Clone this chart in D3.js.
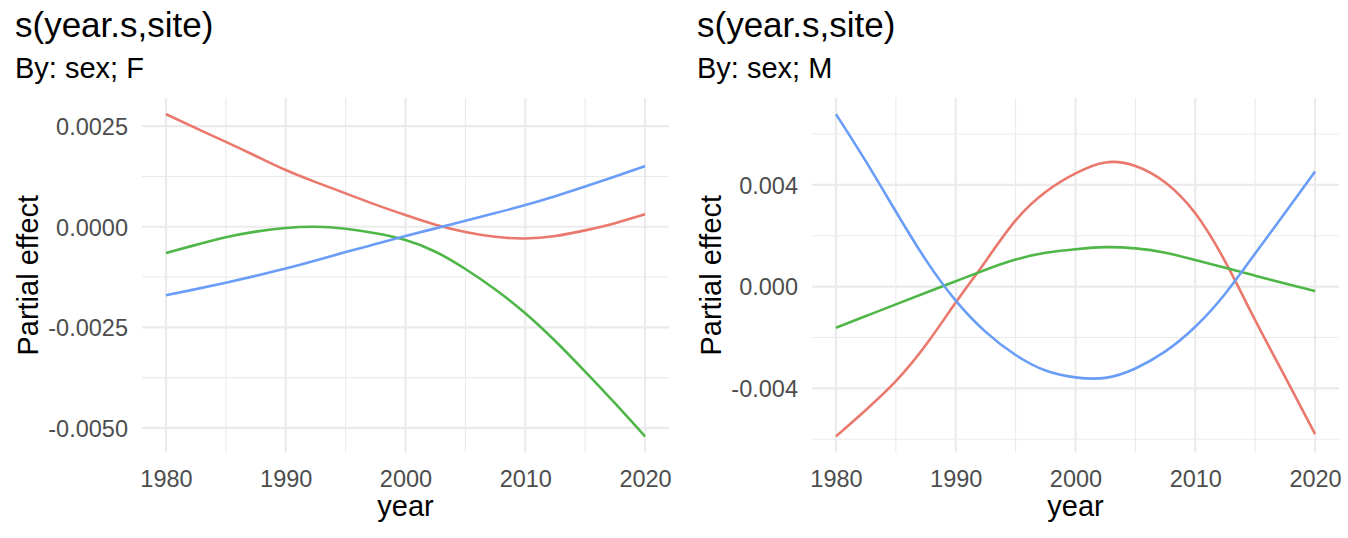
<!DOCTYPE html>
<html><head><meta charset="utf-8">
<script src="https://cdn.jsdelivr.net/npm/d3@7"></script>
<style>
body{margin:0;background:#fff}
text{font-family:"Liberation Sans",Arial,Helvetica,sans-serif}
</style>
</head><body>
<svg id="chart" width="1348" height="538"></svg>
<script>
// ---------- data ----------
const years = [1980, 1982.5, 1985, 1987.5, 1990, 1992.5, 1995, 1997.5, 2000, 2002.5, 2005, 2007.5, 2010, 2012.5, 2015, 2017.5, 2020];

// sex F
const femaleRed   = [0.00280, 0.00245, 0.00211, 0.00176, 0.00141, 0.00111, 0.00083, 0.00055, 0.00029, 0.00005, -0.00013, -0.00025, -0.00029, -0.00023, -0.00009, 0.00009, 0.00031];
const femaleGreen = [-0.00065, -0.00045, -0.00026, -0.00012, -0.00003, 0.00000, -0.00005, -0.00016, -0.00033, -0.00062, -0.00105, -0.00156, -0.00215, -0.00284, -0.00360, -0.00439, -0.00521];
const femaleBlue  = [-0.00170, -0.00155, -0.00139, -0.00122, -0.00104, -0.00084, -0.00063, -0.00043, -0.00023, -0.00004, 0.00015, 0.00034, 0.00054, 0.00076, 0.00100, 0.00125, 0.00151];

// sex M
const maleRed   = [-0.00589, -0.00485, -0.00372, -0.00230, -0.00063, 0.00100, 0.00260, 0.00372, 0.00445, 0.00488, 0.00474, 0.00409, 0.00288, 0.00098, -0.00132, -0.00355, -0.00580];
const maleGreen = [-0.00162, -0.00116, -0.00070, -0.00024, 0.00021, 0.00066, 0.00106, 0.00133, 0.00147, 0.00155, 0.00150, 0.00133, 0.00104, 0.00074, 0.00043, 0.00012, -0.00018];
const maleBlue  = [0.00678, 0.00492, 0.00295, 0.00105, -0.00055, -0.00178, -0.00269, -0.00330, -0.00357, -0.00359, -0.00322, -0.00255, -0.00158, -0.00028, 0.00130, 0.00290, 0.00452];

const seriesColors = ["#EA786D", "#4FB648", "#6A9DF8"];

const xTicks = [1980, 1990, 2000, 2010, 2020];
const xTickLabels = ["1980", "1990", "2000", "2010", "2020"];
const xMinor = [1985, 1995, 2005, 2015];

const yTicksF = [-0.005, -0.0025, 0, 0.0025];
const yTickLabelsF = ["-0.0050", "-0.0025", "0.0000", "0.0025"];
const yMinorF = [-0.00375, -0.00125, 0.00125];

const yTicksM = [-0.004, 0, 0.004];
const yTickLabelsM = ["-0.004", "0.000", "0.004"];
const yMinorM = [-0.006, -0.002, 0.002, 0.006];

const titles = ["s(year.s,site)", "s(year.s,site)"];
const subtitles = ["By: sex; F", "By: sex; M"];
const xTitle = "year";
const yTitle = "Partial effect";

// ---------- layout ----------
const svg = d3.select("#chart");
const panelTop = 98, panelBottom = 452.5;
const panels = [
  {series:[femaleRed, femaleGreen, femaleBlue], yTicks:yTicksF, yLabels:yTickLabelsF, yMinor:yMinorF,
   left:142, right:669, titleX:15, yTitleX:38},
  {series:[maleRed, maleGreen, maleBlue], yTicks:yTicksM, yLabels:yTickLabelsM, yMinor:yMinorM,
   left:812, right:1339, titleX:697, yTitleX:721}
];

panels.forEach((p, pi) => {
  const g = svg.append("g");
  const x = d3.scaleLinear().domain([1978, 2022]).range([p.left, p.right]);
  const all = p.series.flat();
  const lo = d3.min(all), hi = d3.max(all), pad = (hi - lo) * 0.05;
  const y = d3.scaleLinear().domain([lo - pad, hi + pad]).range([panelBottom, panelTop]);

  // minor grid
  g.selectAll(".vmin").data(xMinor).enter().append("line")
    .attr("x1", d => x(d)).attr("x2", d => x(d)).attr("y1", panelTop).attr("y2", panelBottom)
    .attr("stroke", "#EBEBEB").attr("stroke-width", 1.1);
  g.selectAll(".hmin").data(p.yMinor).enter().append("line")
    .attr("x1", p.left).attr("x2", p.right).attr("y1", d => y(d)).attr("y2", d => y(d))
    .attr("stroke", "#EBEBEB").attr("stroke-width", 1.1);
  // major grid
  g.selectAll(".vmaj").data(xTicks).enter().append("line")
    .attr("x1", d => x(d)).attr("x2", d => x(d)).attr("y1", panelTop).attr("y2", panelBottom)
    .attr("stroke", "#EBEBEB").attr("stroke-width", 2.2);
  g.selectAll(".hmaj").data(p.yTicks).enter().append("line")
    .attr("x1", p.left).attr("x2", p.right).attr("y1", d => y(d)).attr("y2", d => y(d))
    .attr("stroke", "#EBEBEB").attr("stroke-width", 2.2);

  // axes
  const xAxis = d3.axisBottom(x).tickValues(xTicks).tickFormat((d, i) => xTickLabels[i]).tickSize(0).tickPadding(0);
  const gx = g.append("g").attr("transform", `translate(0,${panelBottom})`).call(xAxis);
  gx.select(".domain").remove();
  gx.selectAll("text").attr("dy", null).attr("y", 34).attr("font-size", 23.5).attr("fill", "#4D4D4D")
    .style("font-family", "'Liberation Sans',Arial,sans-serif");

  const yAxis = d3.axisLeft(y).tickValues(p.yTicks).tickFormat((d, i) => p.yLabels[i]).tickSize(0).tickPadding(14);
  const gy = g.append("g").attr("transform", `translate(${p.left},0)`).call(yAxis);
  gy.select(".domain").remove();
  gy.selectAll("text").attr("dy", "0.35em").attr("font-size", 23.5).attr("fill", "#4D4D4D")
    .style("font-family", "'Liberation Sans',Arial,sans-serif");

  // lines
  const line = d3.line().x((d, i) => x(years[i])).y(d => y(d)).curve(d3.curveNatural);
  p.series.forEach((s, si) => {
    g.append("path").attr("d", line(s)).attr("fill", "none")
      .attr("stroke", seriesColors[si]).attr("stroke-width", 2.6);
  });

  // titles
  g.append("text").attr("x", p.titleX).attr("y", 37).attr("font-size", 35).attr("fill", "#000").text(titles[pi]);
  g.append("text").attr("x", p.titleX).attr("y", 78).attr("font-size", 29).attr("fill", "#000").text(subtitles[pi]);
  g.append("text").attr("x", (p.left + p.right) / 2).attr("y", 516).attr("text-anchor", "middle")
    .attr("font-size", 29).attr("fill", "#000").text(xTitle);
  g.append("text").attr("transform", `translate(${p.yTitleX},${(panelTop + panelBottom) / 2}) rotate(-90)`)
    .attr("text-anchor", "middle").attr("font-size", 29).attr("fill", "#000").text(yTitle);
});
</script>
</body></html>
